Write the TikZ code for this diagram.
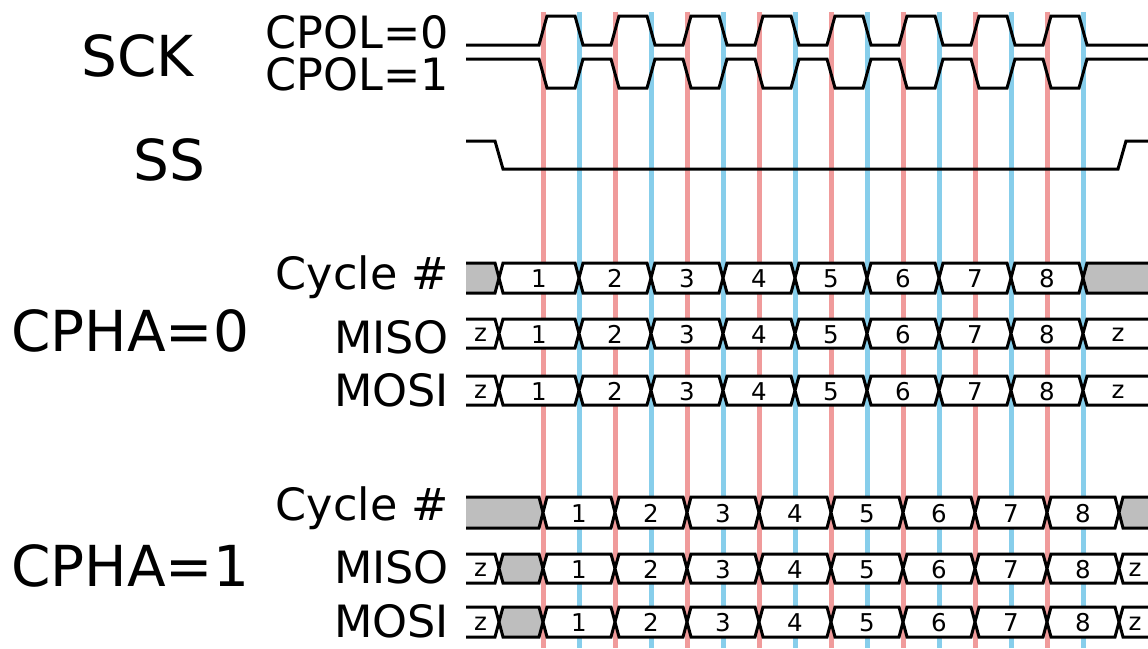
\documentclass[tikz,border=0pt]{standalone}
\usepackage{fontspec}
\setmainfont{DejaVu Sans}
\definecolor{redl}{RGB}{240,155,155}
\definecolor{bluel}{RGB}{135,206,235}
\definecolor{busgray}{RGB}{190,190,190}
\tikzset{
  sig/.style={line width=3pt, line join=miter, black},
  vred/.style={redl, line width=5pt},
  vblue/.style={bluel, line width=5pt},
  big/.style={inner sep=0pt, font=\fontsize{56.5}{60}\selectfont},
  med/.style={inner sep=0pt, font=\fontsize{44.5}{48}\selectfont},
  buslbl/.style={inner sep=0pt, anchor=base, font=\fontsize{24.5}{26}\selectfont}
}
% closed bus segment: x1,x2,top,bot,fill,label
\newcommand\busmid[6]{%
  \filldraw[sig,fill=#5] ({#1+4},#3) -- ({#2-4},#3) -- (#2,{(#3+#4)/2}) -- ({#2-4},#4) -- ({#1+4},#4) -- (#1,{(#3+#4)/2}) -- cycle;
  \node[buslbl] (lb-#1-#3) at ({(#1+#2)/2},{(#3+#4)/2+9.5}) {#6};}
% open on the left: x2,top,bot,fill,label,labelx
\newcommand\busleft[6]{%
  \filldraw[sig,fill=#4] (466,#2) -- ({#1-4},#2) -- (#1,{(#2+#3)/2}) -- ({#1-4},#3) -- (466,#3);
  \node[buslbl] (lbl-#2) at (#6,{(#2+#3)/2+8}) {#5};}
% open on the right: x1,top,bot,fill,label,labelx
\newcommand\busright[6]{%
  \filldraw[sig,fill=#4] (1148,#2) -- ({#1+4},#2) -- (#1,{(#2+#3)/2}) -- ({#1+4},#3) -- (1148,#3);
  \node[buslbl] (lbr-#2) at (#6,{(#2+#3)/2+8}) {#5};}
\begin{document}
\begin{tikzpicture}[x=1pt,y=-1pt]
\useasboundingbox (0,0) rectangle (1148,648);
% vertical edge markers
\foreach \i in {0,...,7} {
  \draw[vred] ({543+72*\i},12) -- ({543+72*\i},648);
  \draw[vblue] ({579+72*\i},12) -- ({579+72*\i},648);
}
% SCK
\draw[sig] (466,45) foreach \i in {0,...,7} { -- ({539+72*\i},45) -- ({547+72*\i},16) -- ({575+72*\i},16) -- ({583+72*\i},45) } -- (1148,45);
\draw[sig] (466,59) foreach \i in {0,...,7} { -- ({539+72*\i},59) -- ({547+72*\i},88) -- ({575+72*\i},88) -- ({583+72*\i},59) } -- (1148,59);
% SS
\draw[sig] (466,141) -- (495,141) -- (503,169) -- (1118,169) -- (1126,141) -- (1148,141);
% CPHA=0 rows
\foreach \t/\b/\f/\l in {263/293/busgray/{}, 319/348/white/z, 376/405/white/z} {
  \busleft{499}{\t}{\b}{\f}{\l}{480.5}
  \foreach \xa/\xb/\n in {499/579/1, 579/651/2, 651/723/3, 723/795/4, 795/867/5, 867/939/6, 939/1011/7, 1011/1083/8} {
    \busmid{\xa}{\xb}{\t}{\b}{white}{\n}
  }
  \busright{1083}{\t}{\b}{\f}{\l}{1118}
}
% CPHA=1 rows
\busleft{543}{497}{528}{busgray}{}{500}
\foreach \t/\b in {554/583, 607/637} {
  \busleft{499}{\t}{\b}{white}{z}{480.5}
  \busmid{499}{543}{\t}{\b}{busgray}{}
}
\foreach \t/\b in {497/528, 554/583, 607/637} {
  \foreach \xa/\xb/\n in {543/615/1, 615/687/2, 687/759/3, 759/831/4, 831/903/5, 903/975/6, 975/1047/7, 1047/1119/8} {
    \busmid{\xa}{\xb}{\t}{\b}{white}{\n}
  }
}
\busright{1119}{497}{528}{busgray}{}{1135}
\busright{1119}{554}{583}{white}{z}{1135}
\busright{1119}{607}{637}{white}{z}{1135}
% labels
\node[big, anchor=base] (sck) at (137.5,76) {SCK};
\node[big, anchor=base] (ss) at (169.5,180) {SS};
\node[med, anchor=base east] (cpol0) at (449,48) {CPOL=0};
\node[med, anchor=base east] (cpol1) at (449,90) {CPOL=1};
\node[big, anchor=base west] (cpha0) at (11,351) {CPHA=0};
\node[med, anchor=base east] (cyc0) at (449,289) {Cycle \#};
\node[med, anchor=base east] (miso0) at (449,353) {MISO};
\node[med, anchor=base east] (mosi0) at (449,406) {MOSI};
\node[big, anchor=base west] (cpha1) at (11,586) {CPHA=1};
\node[med, anchor=base east] (cyc1) at (449,520) {Cycle \#};
\node[med, anchor=base east] (miso1) at (449,583) {MISO};
\node[med, anchor=base east] (mosi1) at (449,637) {MOSI};
\end{tikzpicture}
\end{document}
